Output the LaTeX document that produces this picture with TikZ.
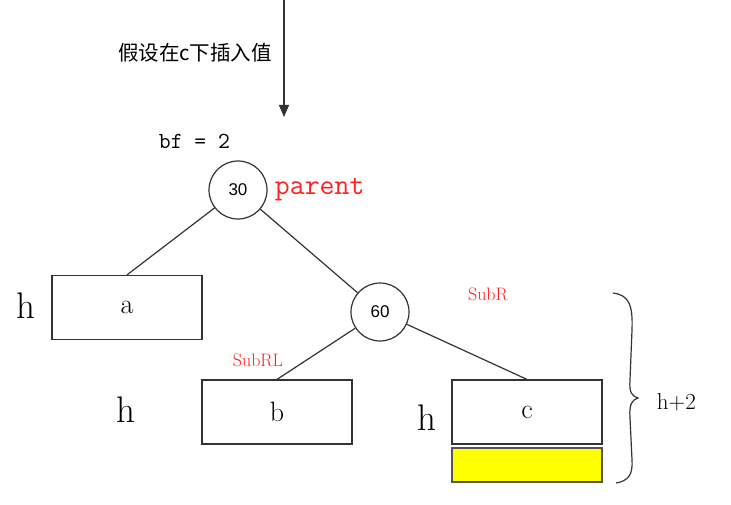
\documentclass[tikz,border=0pt]{standalone}
\usepackage{fontspec}
\usepackage{xcolor}
\usetikzlibrary{arrows.meta}
\newfontfamily\cjkfont{Noto Sans CJK SC}
\newfontfamily\numfont{Liberation Sans}
\definecolor{ink}{HTML}{333333}
\definecolor{mark}{HTML}{FF2020}
\definecolor{grow}{HTML}{FFFF00}
\definecolor{rim}{HTML}{555555}

\begin{document}
\begin{tikzpicture}[x=1pt,y=-1pt,line width=1.2pt,
    key/.style={circle,draw=ink,minimum size=58pt,inner sep=0pt,
                font=\numfont\fontsize{17}{17}\selectfont},
    sub/.style={rectangle,draw=ink,minimum width=150pt,minimum height=64pt,
                inner sep=0pt,font=\fontsize{28}{28}\selectfont},
    tag/.style={text=mark,font=\fontsize{18}{18}\selectfont},
    hgt/.style={font=\fontsize{37}{37}\selectfont},
    edge/.style={draw=ink,line width=1.2pt}]
  \useasboundingbox (0,0) rectangle (731,505);

  \coordinate (start) at (284,0);
  \coordinate (goal) at (284,117);
  \draw[edge,-{Triangle[length=12pt,width=10pt]}] (start) -- (goal);
  \node[font=\cjkfont\fontsize{20.5}{20.5}\selectfont] (note) at (195,53) {假设在c下插入值};

  \node[anchor=west,font=\ttfamily\fontsize{23}{23}\selectfont] (bf) at (155,141) {bf = 2};
  \node[key] (n30) at (238,190) {30};
  \node[anchor=west,text=mark,font=\ttfamily\fontsize{29}{29}\selectfont] (par) at (271,190) {parent};

  \node[sub] (sa) at (127,307.5) {a};
  \node[hgt] (ha) at (26,306) {h};
  \node[key] (n60) at (380,312) {60};
  \node[tag] (subr) at (488,294) {SubR};
  \node[tag] (subrl) at (258,360) {SubRL};

  \node[sub] (sb) at (277,412) {b};
  \node[hgt] (hb) at (126,410) {h};
  \node[sub] (sc) at (527,412) {c};
  \node[hgt] (hc) at (427,418) {h};
  \node[rectangle,draw=rim,fill=grow,minimum width=150pt,minimum height=34pt,
        inner sep=0pt] (extra) at (527,465) {};

  \draw[edge] (n30) -- (sa.north);
  \draw[edge] (n30) -- (n60);
  \draw[edge] (n60) -- (sb.north);
  \draw[edge] (n60) -- (sc.north);

  \draw[edge] (613,293) .. controls (629,295) and (633,305) .. (632,330)
    -- (630,380) .. controls (629,393) and (632,396) .. (638,398)
    .. controls (632,400) and (629,404) .. (630,418)
    -- (632,460) .. controls (633,475) and (628,481) .. (616,483);
  \node[anchor=west,font=\fontsize{23}{23}\selectfont] (total) at (653,402) {h+2};
\end{tikzpicture}
\end{document}
